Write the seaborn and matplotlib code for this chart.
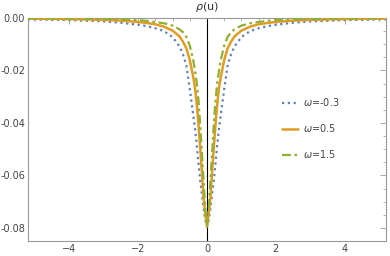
import numpy as np
import pandas as pd
import matplotlib
matplotlib.use("Agg")
import matplotlib.pyplot as plt
from matplotlib.ticker import MultipleLocator, FuncFormatter
import seaborn as sns

sns.set_theme(style="white")
plt.rcParams['font.family'] = ['DejaVu Sans']

u = [-5.2, -4.0, -3.0, -2.5, -2.0, -1.75, -1.5, -1.25, -1.0, -0.8, -0.7, -0.6, -0.5,
     -0.4, -0.35, -0.3, -0.25, -0.2, -0.15, -0.1, -0.05, 0.0,
     0.05, 0.1, 0.15, 0.2, 0.25, 0.3, 0.35, 0.4,
     0.5, 0.6, 0.7, 0.8, 1.0, 1.25, 1.5, 1.75, 2.0, 2.5, 3.0, 4.0, 5.2]

rho_m03 = [-0.0005, -0.0008, -0.0013, -0.0018, -0.0026, -0.0031, -0.0039, -0.0050, -0.0073,
           -0.0108, -0.0138, -0.0180, -0.0270, -0.0370, -0.0420, -0.0480, -0.0550, -0.0617,
           -0.0670, -0.0725, -0.0770, -0.0795,
           -0.0770, -0.0725, -0.0670, -0.0617, -0.0550, -0.0480, -0.0420, -0.0370,
           -0.0270, -0.0180, -0.0138, -0.0108, -0.0073, -0.0050, -0.0039, -0.0031, -0.0026,
           -0.0018, -0.0013, -0.0008, -0.0005]

rho_05 = [-0.0002, -0.0004, -0.0007, -0.0010, -0.0015, -0.0019, -0.0024, -0.0033, -0.0048,
          -0.0070, -0.0090, -0.0115, -0.0160, -0.0225, -0.0265, -0.0325, -0.0400, -0.0490,
          -0.0585, -0.0685, -0.0745, -0.0795,
          -0.0745, -0.0685, -0.0585, -0.0490, -0.0400, -0.0325, -0.0265, -0.0225,
          -0.0160, -0.0115, -0.0090, -0.0070, -0.0048, -0.0033, -0.0024, -0.0019, -0.0015,
          -0.0010, -0.0007, -0.0004, -0.0002]

rho_15 = [-0.0001, -0.0002, -0.0004, -0.0005, -0.0008, -0.0011, -0.0015, -0.0020, -0.0029,
          -0.0043, -0.0054, -0.0072, -0.0105, -0.0160, -0.0200, -0.0245, -0.0310, -0.0400,
          -0.0510, -0.0617, -0.0730, -0.0795,
          -0.0730, -0.0617, -0.0510, -0.0400, -0.0310, -0.0245, -0.0200, -0.0160,
          -0.0105, -0.0072, -0.0054, -0.0043, -0.0029, -0.0020, -0.0015, -0.0011, -0.0008,
          -0.0005, -0.0004, -0.0002, -0.0001]

labels = ["$\\omega$=-0.3", "$\\omega$=0.5", "$\\omega$=1.5"]
colors = ["#5E81B5", "#E19C24", "#8FB032"]
styles = [(0, (1, 1.6)), "-", (0, (4, 1.6, 1.2, 1.6))]
widths = [1.6, 1.8, 1.6]

df = pd.DataFrame({
    "u": u * 3,
    "rho": rho_m03 + rho_05 + rho_15,
    "series": [labels[0]] * len(u) + [labels[1]] * len(u) + [labels[2]] * len(u),
})

fig = plt.figure(figsize=(3.9, 2.56), dpi=100)
ax = fig.add_axes([28 / 390, 1 - 241 / 256, (386 - 28) / 390, (241 - 18) / 256])

ax.axvline(0, color="black", lw=0.8, zorder=1)

for lab, c, ls, lw in zip(labels, colors, styles, widths):
    sub = df[df["series"] == lab]
    sns.lineplot(data=sub, x="u", y="rho", ax=ax, color=c, lw=lw, label=lab,
                 sort=False, estimator=None, zorder=3)
    ax.lines[-1].set_linestyle(ls)

ax.set_xlim(-5.2, 5.2)
ax.set_ylim(-0.085, 0.0)
ax.set_xlabel("")
ax.set_ylabel("")

ax.xaxis.set_major_locator(MultipleLocator(2))
ax.xaxis.set_minor_locator(MultipleLocator(0.5))
ax.yaxis.set_major_locator(MultipleLocator(0.02))
ax.yaxis.set_minor_locator(MultipleLocator(0.005))
ax.yaxis.set_major_formatter(FuncFormatter(lambda v, p: f"{v:.2f}".replace("-0.00", "0.00")))

ax.tick_params(which="both", direction="in", top=True, right=True,
               colors="#999999", labelcolor="#444444", labelsize=7, pad=2)
ax.tick_params(which="major", length=4, width=0.6)
ax.tick_params(which="minor", length=2, width=0.5)
ax.tick_params(axis="x", labeltop=False)
ax.tick_params(axis="y", labelright=False)
for s in ax.spines.values():
    s.set_color("#999999")
    s.set_linewidth(0.8)

ax.text(0, 1.02, "$\\rho$(u)", transform=ax.get_xaxis_transform(), ha="center",
        va="bottom", fontsize=8, color="#333333")

leg = ax.legend(loc="center left", bbox_to_anchor=(0.685, 0.505), frameon=False,
                fontsize=7, handlelength=1.6, handletextpad=0.6, labelspacing=1.45,
                labelcolor="#444444")

fig.savefig("out.png", dpi=100)
